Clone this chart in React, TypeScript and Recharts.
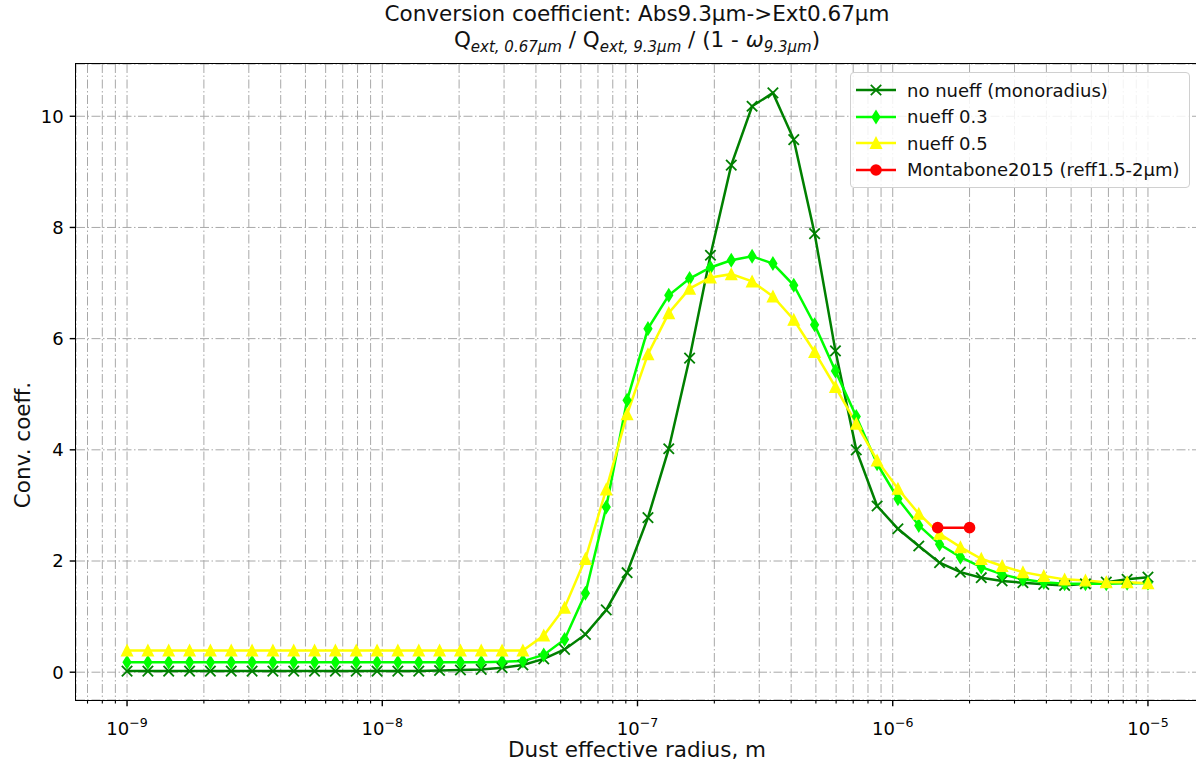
import { LineChart, Line, XAxis, YAxis, CartesianGrid } from 'recharts';

// dust effective radius, m (50 log-spaced sizes, 1e-9 .. 1e-5)
const radius = [
  1.0e-9, 1.207e-9, 1.456e-9, 1.758e-9, 2.121e-9, 2.56e-9, 3.089e-9, 3.728e-9, 4.498e-9, 5.429e-9,
  6.551e-9, 7.906e-9, 9.541e-9, 1.151e-8, 1.39e-8, 1.677e-8, 2.024e-8, 2.442e-8, 2.947e-8, 3.556e-8,
  4.292e-8, 5.179e-8, 6.251e-8, 7.543e-8, 9.103e-8, 1.099e-7, 1.326e-7, 1.6e-7, 1.931e-7, 2.33e-7,
  2.812e-7, 3.393e-7, 4.095e-7, 4.942e-7, 5.964e-7, 7.197e-7, 8.685e-7, 1.048e-6, 1.265e-6, 1.526e-6,
  1.842e-6, 2.223e-6, 2.683e-6, 3.237e-6, 3.907e-6, 4.715e-6, 5.69e-6, 6.866e-6, 8.286e-6, 1.0e-5,
];

const noNueff = [
  0.02, 0.02, 0.02, 0.02, 0.02, 0.02, 0.02, 0.02, 0.02, 0.02,
  0.02, 0.02, 0.02, 0.02, 0.02, 0.03, 0.04, 0.05, 0.08, 0.13,
  0.24, 0.41, 0.68, 1.12, 1.79, 2.78, 4.02, 5.65, 7.5, 9.12,
  10.18, 10.42, 9.58, 7.89, 5.78, 4.0, 2.99, 2.58, 2.27, 1.97,
  1.8, 1.7, 1.64, 1.61, 1.58, 1.56, 1.59, 1.62, 1.67, 1.71,
];

const nueff03 = [
  0.18, 0.18, 0.18, 0.18, 0.18, 0.18, 0.18, 0.18, 0.18, 0.18,
  0.18, 0.18, 0.18, 0.18, 0.18, 0.18, 0.18, 0.18, 0.19, 0.2,
  0.31, 0.59, 1.42, 2.97, 4.89, 6.18, 6.78, 7.08, 7.28, 7.41,
  7.48, 7.35, 6.96, 6.25, 5.42, 4.6, 3.75, 3.12, 2.64, 2.3,
  2.07, 1.89, 1.76, 1.67, 1.62, 1.59, 1.59, 1.59, 1.6, 1.6,
];

const nueff05 = [
  0.39, 0.39, 0.39, 0.39, 0.39, 0.39, 0.39, 0.39, 0.39, 0.39,
  0.39, 0.39, 0.39, 0.39, 0.39, 0.39, 0.39, 0.39, 0.39, 0.39,
  0.66, 1.16, 2.04, 3.29, 4.64, 5.72, 6.46, 6.9, 7.1, 7.16,
  7.03, 6.76, 6.34, 5.76, 5.13, 4.47, 3.81, 3.3, 2.85, 2.49,
  2.25, 2.04, 1.91, 1.8, 1.73, 1.67, 1.65, 1.62, 1.62, 1.6,
];

const montaboneRadius = [1.5e-6, 2.0e-6];
const montaboneCoeff = [2.6, 2.6];

const yTicks = [0, 2, 4, 6, 8, 10];
const decades = [-10, -9, -8, -7, -6, -5];
const mantissas = [1, 2, 3, 4, 5, 6, 7, 8, 9];

const xDomain = [Math.pow(10, -9.2), Math.pow(10, -4.8)];
const xTicks: number[] = [];
decades.forEach(d => mantissas.forEach(m => {
  const t = m * Math.pow(10, d);
  if (t >= xDomain[0] && t <= xDomain[1]) xTicks.push(t);
}));

const FONT = '"DejaVu Sans", sans-serif';
const DARK = '#008000';
const LIME = '#00ff00';
const YELLOW = '#ffff00';
const RED = '#ff0000';
const GRID = '#a8a8a8';

const toPoints = (xs: number[], ys: number[]) => xs.map((r, i) => ({ r, v: ys[i] }));

const XMark = ({ cx, cy, color }: any) => (
  <g>
    <line x1={cx - 5.2} y1={cy - 5.2} x2={cx + 5.2} y2={cy + 5.2} stroke={color} strokeWidth={1.8} />
    <line x1={cx - 5.2} y1={cy + 5.2} x2={cx + 5.2} y2={cy - 5.2} stroke={color} strokeWidth={1.8} />
  </g>
);

const Diamond = ({ cx, cy, color }: any) => (
  <polygon points={`${cx},${cy - 5.8} ${cx + 3.6},${cy} ${cx},${cy + 5.8} ${cx - 3.6},${cy}`}
    fill={color} stroke={color} strokeWidth={1.8} strokeLinejoin="miter" />
);

const Triangle = ({ cx, cy, color }: any) => (
  <polygon points={`${cx},${cy - 5.4} ${cx + 5.4},${cy + 5.4} ${cx - 5.4},${cy + 5.4}`}
    fill={color} stroke={color} strokeWidth={1.4} />
);

const Circle = ({ cx, cy, color }: any) => <circle cx={cx} cy={cy} r={5.8} fill={color} />;

const markerDot = (Shape: any, color: string) => (props: any) => (
  <Shape key={`m-${props.index}`} cx={props.cx} cy={props.cy} color={color} />
);

const XTick = ({ x, y, payload }: any) => {
  const lg = Math.log10(payload.value);
  const exp = Math.round(lg);
  const major = Math.abs(lg - exp) < 1e-6;
  return (
    <g>
      <line x1={x} x2={x} y1={y} y2={y + (major ? 6.3 : 3.6)} stroke="#000" strokeWidth={major ? 1.4 : 1.1} />
      {major && (
        <text x={x} y={y + 35} textAnchor="middle" fontFamily={FONT} fontSize={18} fill="#000">
          <tspan>10</tspan>
          <tspan dy={-8} fontSize={12.6}>{`\u2212${Math.abs(exp)}`}</tspan>
        </text>
      )}
    </g>
  );
};

const legendItems = [
  { name: 'no nueff (monoradius)', color: DARK, Shape: XMark },
  { name: 'nueff 0.3', color: LIME, Shape: Diamond },
  { name: 'nueff 0.5', color: YELLOW, Shape: Triangle },
  { name: 'Montabone2015 (reff1.5-2\u00b5m)', color: RED, Shape: Circle },
];

const LegendBox = () => (
  <div style={{
    position: 'absolute', left: 850, top: 72, width: 340, height: 116,
    background: 'rgba(255,255,255,0.85)', border: '1px solid #d0d0d0',
    borderRadius: 4, boxSizing: 'border-box', paddingTop: 4, fontFamily: FONT,
  }}>
    {legendItems.map(item => (
      <div key={item.name} style={{ display: 'flex', alignItems: 'center', height: 26.5 }}>
        <svg width={52} height={20} style={{ marginLeft: 4, flex: 'none' }}>
          <line x1={1} x2={41} y1={10} y2={10} stroke={item.color} strokeWidth={2.5} />
          <item.Shape cx={21} cy={10} color={item.color} />
        </svg>
        <span style={{ fontSize: 18, color: '#111', whiteSpace: 'nowrap' }}>{item.name}</span>
      </div>
    ))}
  </div>
);

const sub = { fontSize: 15, fontStyle: 'italic' as const, position: 'relative' as const, top: 5 };

export default function App() {
  return (
    <div style={{ position: 'absolute', left: 0, top: 0, width: 1196, height: 767, overflow: 'hidden', background: '#fff' }}>
      <div style={{ position: 'absolute', left: 0, top: 1, width: 1274, lineHeight: '26px', textAlign: 'center', fontFamily: FONT, fontSize: 21.5, color: '#111' }}>
        Conversion coefficient: Abs9.3µm-&gt;Ext0.67µm
      </div>
      <div style={{ position: 'absolute', left: 0, top: 27, width: 1274, lineHeight: '26px', textAlign: 'center', fontFamily: FONT, fontSize: 21.5, color: '#111' }}>
        Q<span style={sub}>ext, 0.67µm</span> / Q<span style={sub}>ext, 9.3µm</span> / (1 - <i>ω</i><span style={sub}>9.3µm</span>)
      </div>

      <LineChart width={1200} height={767} margin={{ top: 64, right: 1, bottom: 0, left: 0 }}>
        <CartesianGrid stroke={GRID} strokeDasharray="9 2.5 1.5 2.5" strokeWidth={1} />
        <XAxis
          dataKey="r"
          type="number"
          scale="log"
          domain={xDomain}
          allowDataOverflow
          ticks={xTicks}
          interval={0}
          tick={<XTick />}
          tickSize={0}
          tickMargin={0}
          tickLine={false}
          axisLine={false}
          height={67}
        />
        <YAxis
          type="number"
          domain={[-0.5, 10.94]}
          allowDataOverflow
          ticks={yTicks}
          interval={0}
          width={76}
          tickSize={6.3}
          tickMargin={6}
          tickLine={{ stroke: '#000', strokeWidth: 1.4 }}
          axisLine={false}
          tick={{ fontFamily: FONT, fontSize: 18, fill: '#000' }}
        />
        <Line data={toPoints(radius, noNueff)} dataKey="v" name="no nueff (monoradius)" stroke={DARK} strokeWidth={2.5}
          dot={markerDot(XMark, DARK)} type="linear" isAnimationActive={false} />
        <Line data={toPoints(radius, nueff03)} dataKey="v" name="nueff 0.3" stroke={LIME} strokeWidth={2.5}
          dot={markerDot(Diamond, LIME)} type="linear" isAnimationActive={false} />
        <Line data={toPoints(radius, nueff05)} dataKey="v" name="nueff 0.5" stroke={YELLOW} strokeWidth={2.5}
          dot={markerDot(Triangle, YELLOW)} type="linear" isAnimationActive={false} />
        <Line data={toPoints(montaboneRadius, montaboneCoeff)} dataKey="v" name="Montabone2015 (reff1.5-2µm)" stroke={RED} strokeWidth={2.5}
          dot={markerDot(Circle, RED)} type="linear" isAnimationActive={false} />
      </LineChart>

      {/* axes frame */}
      <div style={{ position: 'absolute', left: 75, top: 63, width: 1125, height: 638, border: '1.5px solid #000', boxSizing: 'border-box', pointerEvents: 'none' }} />

      <LegendBox />

      <div style={{ position: 'absolute', left: 0, top: 737, width: 1274, lineHeight: '26px', textAlign: 'center', fontFamily: FONT, fontSize: 21.5, color: '#111' }}>
        Dust effective radius, m
      </div>
      <div style={{
        position: 'absolute', left: 22, top: 445, transform: 'translate(-50%, -50%) rotate(-90deg)',
        whiteSpace: 'nowrap', fontFamily: FONT, fontSize: 21.5, color: '#111',
      }}>
        Conv. coeff.
      </div>
    </div>
  );
}
